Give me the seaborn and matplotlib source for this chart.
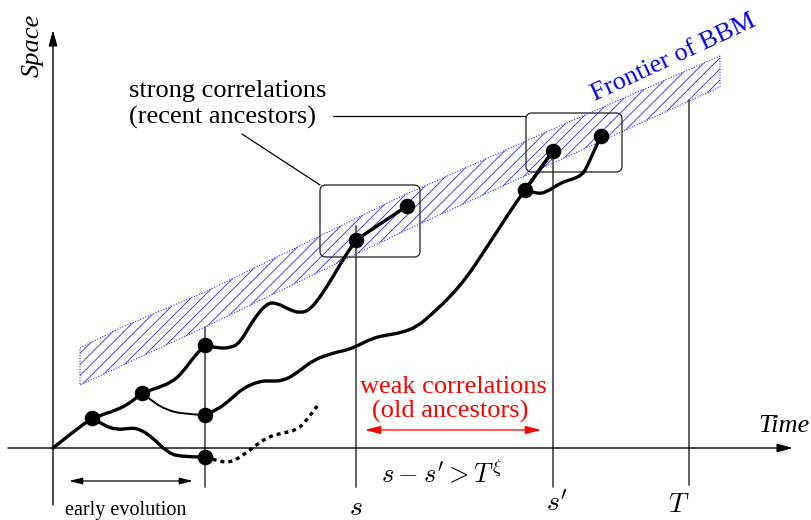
"""Schematic: genealogy of branching Brownian motion near its frontier."""

import matplotlib

matplotlib.use("Agg")
import matplotlib.pyplot as plt
import seaborn as sns
from matplotlib.patches import FancyBboxPatch, PathPatch, Polygon
from matplotlib.path import Path

sns.set_theme(style="white")
plt.rcParams["font.family"] = ["Liberation Serif", "DejaVu Serif"]
plt.rcParams["mathtext.fontset"] = "cm"
plt.rcParams["hatch.linewidth"] = 0.6
plt.rcParams["text.color"] = "black"

# ---------------------------------------------------------------------------
# Data (picture coordinates, y grows downwards)
# ---------------------------------------------------------------------------

origin = (53, 448)
time_axis_x = [8, 793]
space_axis_y = [505, 30]

# frontier band edges
band_top_x = [80, 120, 205, 400, 553, 720]
band_top_y = [348, 328, 292, 197, 129, 56]
band_bot_x = [720, 553, 400, 205, 80]
band_bot_y = [87, 163, 233, 327, 385]

# vertical time markers
marker_x = [205, 356, 553, 689]
marker_top = [327, 226, 152, 100]
marker_bot = [487, 487, 487, 485]

# branch points
dot_x = [92, 142, 205, 205, 205, 356, 407, 525, 553, 601]
dot_y = [418, 393, 345, 415, 457, 240, 206, 190, 151, 136]

# trajectories (control points of the smooth curves)
path_top_x = [53, 73, 92, 117, 130, 142, 157, 172, 182, 193, 205, 217, 230, 240,
              253, 267, 277, 290, 300, 310, 323, 337, 347, 356]
path_top_y = [448, 432, 418, 410, 403, 393, 388, 382, 373, 358, 345, 348, 348, 343,
              320, 303, 303, 310, 313, 310, 293, 270, 253, 240]

path_tip_x = [356, 407]
path_tip_y = [240, 206]

path_low_x = [92, 103, 117, 130, 140, 153, 167, 180, 205]
path_low_y = [418, 425, 430, 428, 429, 438, 452, 457, 457]

path_mid_x = [142, 153, 167, 183, 205]
path_mid_y = [393, 402, 410, 414, 415]

path_long_x = [205, 217, 230, 243, 260, 270, 283, 297, 313, 333, 347, 357, 373,
               387, 400, 417, 433, 450, 467, 483, 500, 513, 525, 553]
path_long_y = [415, 410, 400, 388, 381, 381, 381, 373, 360, 353, 350, 346, 338,
               335, 333, 327, 313, 297, 277, 253, 227, 207, 190, 151]

path_right_x = [525, 537, 547, 560, 573, 582, 587, 593, 601]
path_right_y = [190, 194, 192, 183, 179, 175, 167, 153, 136]

path_dead_x = [205, 220, 233, 250, 267, 283, 297, 307, 318]
path_dead_y = [457, 462, 462, 450, 437, 433, 430, 420, 405]


def smooth_path(xs, ys):
    """Quadratic Bezier path through the ends, using inner points as controls."""
    pts = list(zip(xs, ys))
    verts = [pts[0]]
    codes = [Path.MOVETO]
    if len(pts) == 2:
        verts.append(pts[1])
        codes.append(Path.LINETO)
        return Path(verts, codes)
    for i in range(1, len(pts) - 1):
        ctrl = pts[i]
        if i == len(pts) - 2:
            end = pts[i + 1]
        else:
            end = ((pts[i][0] + pts[i + 1][0]) / 2, (pts[i][1] + pts[i + 1][1]) / 2)
        verts += [ctrl, end]
        codes += [Path.CURVE3, Path.CURVE3]
    return Path(verts, codes)


# ---------------------------------------------------------------------------
# Figure
# ---------------------------------------------------------------------------

fig = plt.figure(figsize=(8.11, 5.2), dpi=100)
ax = fig.add_axes([0, 0, 1, 1])
ax.set_xlim(0, 811)
ax.set_ylim(520, 0)
ax.axis("off")

# frontier band
band = Polygon(
    list(zip(band_top_x + band_bot_x, band_top_y + band_bot_y)),
    closed=True, fill=False, hatch="///", edgecolor="#2a2aff",
    linestyle=(0, (1, 1.5)), linewidth=0.8, zorder=1,
)
ax.add_patch(band)

# axes arrows
head = "-|>,head_length=0.95,head_width=0.26"
ax.annotate("", xy=(time_axis_x[1], origin[1]), xytext=(time_axis_x[0], origin[1]),
            arrowprops=dict(arrowstyle=head, color="black", lw=1.0,
                            shrinkA=0, shrinkB=0, mutation_scale=10))
ax.annotate("", xy=(origin[0], space_axis_y[1]), xytext=(origin[0], space_axis_y[0]),
            arrowprops=dict(arrowstyle=head, color="black", lw=1.0,
                            shrinkA=0, shrinkB=0, mutation_scale=10))

# vertical markers
for x, y0, y1 in zip(marker_x, marker_top, marker_bot):
    ax.plot([x, x], [y0, y1], color="#555555", lw=1.3, zorder=2)

# boxes around recent ancestors
for (x0, y0, w, h) in [(320, 185, 100, 72), (526, 113, 96, 59)]:
    ax.add_patch(FancyBboxPatch((x0, y0), w, h,
                                boxstyle="round,pad=0,rounding_size=6",
                                fill=False, edgecolor="#333333", lw=1.0, zorder=3))

# pointer lines from label
ax.plot([333, 526], [116, 116], color="black", lw=0.9)
ax.plot([242, 320], [134, 185], color="black", lw=0.9)

# trajectories
for px, py, lw in [(path_top_x, path_top_y, 2.4), (path_tip_x, path_tip_y, 2.4),
                   (path_low_x, path_low_y, 2.4), (path_mid_x, path_mid_y, 1.4),
                   (path_long_x, path_long_y, 2.4), (path_right_x, path_right_y, 2.4),
                   ([525, 553], [190, 151], 2.4)]:
    ax.add_patch(PathPatch(smooth_path(px, py), fill=False, edgecolor="black",
                           lw=lw, capstyle="round", zorder=4))
ax.add_patch(PathPatch(smooth_path(path_dead_x, path_dead_y), fill=False,
                       edgecolor="black", lw=2.4, linestyle=(0, (1.2, 1.2)),
                       zorder=4))
sns.scatterplot(x=dot_x, y=dot_y, s=125, color="black", edgecolor="black",
                linewidth=0, ax=ax, zorder=5)

# double arrows
ax.annotate("", xy=(69, 481), xytext=(193, 481),
            arrowprops=dict(arrowstyle="<|-|>,head_length=0.8,head_width=0.2",
                            color="black", lw=0.9, shrinkA=0, shrinkB=0,
                            mutation_scale=10))
ax.annotate("", xy=(365, 430), xytext=(541, 430),
            arrowprops=dict(arrowstyle="<|-|>,head_length=0.95,head_width=0.25",
                            color="red", lw=0.9, shrinkA=0, shrinkB=0,
                            mutation_scale=10))

# texts
ax.text(33, 45, "Space", rotation=90, style="italic", fontsize=19,
        ha="center", va="center")
ax.text(784, 432, "Time", style="italic", fontsize=19, ha="center", va="baseline")
ax.text(129, 97, "strong correlations", fontsize=19, ha="left", va="baseline")
ax.text(129, 124, "(recent ancestors)", fontsize=19, ha="left", va="baseline")
ax.text(674, 58, "Frontier of BBM", color="#0000ee", fontsize=19, rotation=25,
        ha="center", va="center", rotation_mode="anchor")
ax.text(453, 393, "weak correlations", color="red", fontsize=19,
        ha="center", va="baseline")
ax.text(450, 418, "(old ancestors)", color="red", fontsize=19,
        ha="center", va="baseline")
ax.text(126, 515, "early evolution", fontsize=14.5, ha="center", va="baseline")
ax.text(442, 482, r"$s - s' > T^{\xi}$", fontsize=19, ha="center", va="baseline")
ax.text(356, 515, r"$s$", fontsize=20, ha="center", va="baseline")
ax.text(557, 512, r"$s'$", fontsize=20, ha="center", va="baseline")
ax.text(679, 512, r"$T$", fontsize=20, ha="center", va="baseline")

fig.savefig("out.png", dpi=100)
